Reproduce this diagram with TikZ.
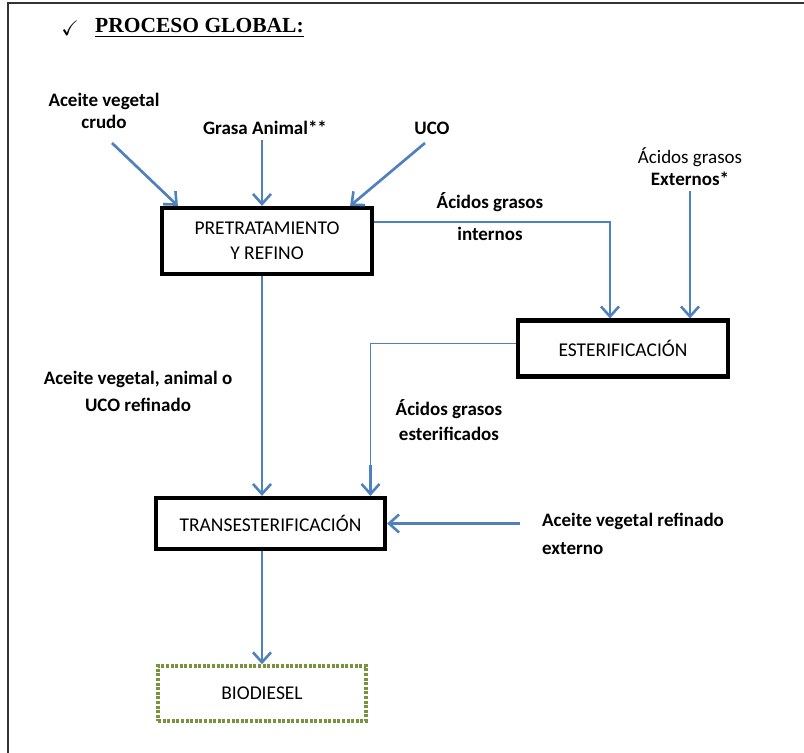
\documentclass[tikz,border=0pt]{standalone}
\usepackage{amsmath,amssymb}
\usepackage{fontspec}
\setmainfont{Carlito}
\newfontfamily\titlefont{Liberation Serif}
\usetikzlibrary{arrows.meta}

\definecolor{flowblue}{RGB}{79,129,189}
\definecolor{biogreen}{RGB}{119,147,60}

\tikzset{
    procbox/.style={draw=black,line width=4.2pt,minimum width=#1,inner sep=0pt,
        font=\fontsize{19.5}{25}\selectfont,align=center},
    label/.style={font=\bfseries\fontsize{19}{22}\selectfont,align=center,inner sep=1pt},
    flow/.style={draw=flowblue,line width=2.7pt,-{Straight Barb[length=10pt,width=18pt,line width=2.6pt]}},
    thinflow/.style={draw=flowblue,line width=1.5pt},
}

\begin{document}
\begin{tikzpicture}[x=1pt,y=-1pt]
        \useasboundingbox (0,0) rectangle (804,753);

        % Frame and title
        \draw[line width=1.8pt,black!80] (8,753) -- (8,3) -- (804,3);
        \node (check) at (70,28) {\fontsize{21}{21}\selectfont$\boldsymbol{\checkmark}$};
        \node[anchor=west,inner sep=0pt] (title) at (95,28)
            {\titlefont\bfseries\fontsize{21.5}{21}\selectfont\underline{PROCESO GLOBAL:}};

        % Process boxes
        \node[procbox=210pt,minimum height=66pt] (pre) at (267,241) {PRETRATAMIENTO\\Y REFINO};
        \node[procbox=210pt,minimum height=56pt] (est) at (623,348.5) {ESTERIFICACIÓN};
        \node[procbox=229pt,minimum height=51pt] (trans) at (270.5,523.5) {TRANSESTERIFICACIÓN};
        \node[procbox=208pt,minimum height=55pt,draw=biogreen,line width=3.5pt,
              dash pattern=on 3pt off 1.6pt] (bio) at (262,693.5) {BIODIESEL};
        \coordinate (axis) at (262,0);

        % Input labels
        \node[label] (crudo) at (104,111) {Aceite vegetal\\crudo};
        \node[label] (grasa) at (265,128) {Grasa Animal**};
        \node[label] (uco) at (432,128) {UCO};
        \node[label,font=\fontsize{19}{22}\selectfont] (ext) at (690,167)
            {Ácidos grasos\\\textbf{Externos*}};
        \node[label] (intern) at (490,217) {Ácidos grasos\\[10pt]internos};
        \node[label,font=\bfseries\fontsize{19}{27}\selectfont] (refin) at (138,391)
            {Aceite vegetal, animal o\\UCO refinado};
        \node[label,font=\bfseries\fontsize{19}{25}\selectfont] (ester) at (449,420)
            {Ácidos grasos\\esterificados};
        \node[label,align=left,anchor=west,font=\bfseries\fontsize{19}{28}\selectfont] (avext) at (541,534)
            {Aceite vegetal refinado\\externo};

        % Feed arrows into pretreatment
        \draw[flow] (112,143) -- ([xshift=18pt]pre.north west);
        \draw[flow] (grasa.south -| axis) ++(0,4) -- (pre.north -| axis);
        \draw[flow] (425,143) -- ([xshift=-24pt]pre.north east);

        % Fatty acids to esterification
        \draw[thinflow] ([yshift=19pt]pre.east) -| ([xshift=-13pt,yshift=30pt]est.north);
        \draw[flow] ([xshift=-13pt,yshift=31pt]est.north) -- ([xshift=-13pt]est.north);
        \draw[flow] ([yshift=-4pt]ext.south) -- (ext.south |- est.north);

        % Esterified acids to transesterification
        \draw[thinflow] ([yshift=5pt]est.west) -| ([xshift=100pt,yshift=30pt]trans.north);
        \draw[flow] ([xshift=100pt,yshift=31pt]trans.north) -- ([xshift=100pt]trans.north);

        % Main line
        \draw[flow] (pre.south -| axis) -- (trans.north -| axis);
        \draw[flow] ([xshift=-21pt]avext.west |- trans.east) -- (trans.east);
        \draw[flow] (trans.south -| axis) -- (bio.north -| axis);
    \end{tikzpicture}
\end{document}
